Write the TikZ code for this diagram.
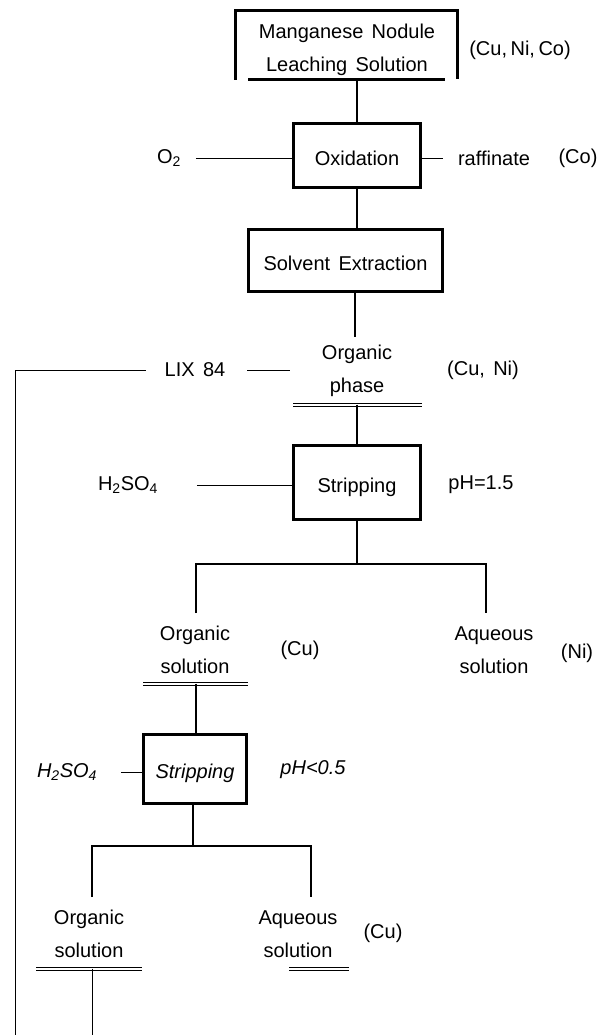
\documentclass[tikz,border=0pt]{standalone}
\usepackage{fontspec}
\setmainfont{Liberation Sans}[WordSpace=1.5]
\begin{document}
\begin{tikzpicture}[x=1pt,y=-1pt,
  every node/.style={inner sep=0pt, outer sep=0pt, font=\fontsize{20}{33}\selectfont, align=center},
  itfont/.style={font=\fontsize{20}{33}\selectfont\itshape},
  procbox/.style={draw, line width=2.7pt, text height=19.4pt, text depth=0pt},
  heavy/.style={line width=2.7pt, line join=miter},
  light/.style={line width=0.9pt},
  bar/.style={line width=0.9pt}]
\useasboundingbox (0,0) rectangle (613,1035);

% top box
\node (mn) at (346.5,45) [minimum width=222.4pt, minimum height=69.4pt] {};
\node (mnt) at (347,50) {Manganese Nodule\\Leaching Solution};
\draw[heavy] (mn.south west) -- (mn.north west) -- (mn.north east) -- ([yshift=1pt]mn.south east);
\draw[heavy] ([xshift=13pt]mn.south west) -- ([xshift=-13pt]mn.south east);
\node (cnc) at (520,50) {(Cu,\hspace{3.5pt}Ni,\hspace{3.5pt}Co)};

% oxidation
\node[procbox, minimum width=127.3pt, minimum height=64.3pt] (ox) at (357,155.5) {Oxidation};
\draw[heavy] (mn.south -| ox.north) -- (ox.north);
\node (o2) at (169,158) {O\textsubscript{2}};
\draw[light] ([xshift=15pt]o2.east) -- (o2.east -| ox.west);
\node (raf) at (494,158) {raffinate};
\draw[light] (raf.west -| ox.east) -- ([xshift=-15pt]raf.west);
\node (co) at (578,158) {(Co)};

% solvent extraction
\node[procbox, minimum width=194.3pt, minimum height=62.3pt] (se) at (345.5,260.5) {Solvent Extraction};
\draw[heavy] (ox.south) -- (ox.south |- se.north);

% organic phase
\node (op) at (357,371) {Organic\\phase};
\coordinate (opt) at (355,337);
\coordinate (opbar) at (357,404.5);
\draw[heavy] (se.south -| opt) -- (opt);
\draw[bar] ([xshift=-64pt,yshift=1.5pt]opbar) -- ([xshift=65pt,yshift=1.5pt]opbar);
\draw[bar] ([xshift=-64pt,yshift=-1.5pt]opbar) -- ([xshift=65pt,yshift=-1.5pt]opbar);
\node (lix) at (195,370) {LIX 84};
\draw[light] ([xshift=22pt]lix.east) -- ([xshift=65pt]lix.east);
\coordinate (loopend) at (15,1035);
\draw[light] ([xshift=-19pt]lix.west) -- (lix.west -| loopend) -- (loopend);
\node (cuni) at (483,370) {(Cu, Ni)};

% stripping 1
\node[procbox, minimum width=127.3pt, minimum height=74.3pt] (st1) at (357,482.5) {Stripping};
\draw[heavy] (opbar) -- (st1.north);
\node (h1) at (128,485) {H\textsubscript{2}SO\textsubscript{4}};
\draw[light] ([xshift=39pt]h1.east) -- (h1.east -| st1.west);
\node (ph1) at (481,485) {pH=1.5};

% branch 1
\coordinate (b1) at (357,564);
\coordinate (b1l) at (196,613);
\coordinate (b1r) at (486,613);
\draw[heavy] (st1.south) -- (b1);
\draw[heavy] (b1l) -- (b1l |- b1) -- (b1r |- b1) -- (b1r);
\node (os1) at (195,650) {Organic\\solution};
\coordinate (os1bar) at (196,683.5);
\draw[bar] ([xshift=-53pt,yshift=1.5pt]os1bar) -- ([xshift=52pt,yshift=1.5pt]os1bar);
\draw[bar] ([xshift=-53pt,yshift=-1.5pt]os1bar) -- ([xshift=52pt,yshift=-1.5pt]os1bar);
\node (cu1) at (300,650) {(Cu)};
\node (aq1) at (494,650) {Aqueous\\solution};
\node (ni) at (577,653) {(Ni)};

% stripping 2
\node[procbox, itfont, minimum width=103.3pt, minimum height=69.3pt] (st2) at (195,769) {Stripping};
\draw[heavy] (os1bar) -- (os1bar |- st2.north);
\node[itfont] (h2) at (67,772) {H\textsubscript{2}SO\textsubscript{4}};
\draw[light] ([xshift=24pt]h2.east) -- (h2.east -| st2.west);
\node[itfont] (ph2) at (313,770) {pH<0.5};

% branch 2
\coordinate (b2) at (193,846);
\coordinate (b2l) at (92,897);
\coordinate (b2r) at (311,897);
\draw[heavy] (st2.south -| b2) -- (b2);
\draw[heavy] (b2l) -- (b2l |- b2) -- (b2r |- b2) -- (b2r);
\node (os2) at (89,934) {Organic\\solution};
\coordinate (os2bar) at (92,968.5);
\draw[bar] ([xshift=-56pt,yshift=1.5pt]os2bar) -- ([xshift=50pt,yshift=1.5pt]os2bar);
\draw[bar] ([xshift=-56pt,yshift=-1.5pt]os2bar) -- ([xshift=50pt,yshift=-1.5pt]os2bar);
\coordinate (os2end) at (92,1035);
\draw[light] (os2bar) -- (os2end);
\node (aq2) at (298,934) {Aqueous\\solution};
\coordinate (aq2bar) at (319,968.5);
\draw[bar] ([xshift=-30pt,yshift=1.5pt]aq2bar) -- ([xshift=30pt,yshift=1.5pt]aq2bar);
\draw[bar] ([xshift=-30pt,yshift=-1.5pt]aq2bar) -- ([xshift=30pt,yshift=-1.5pt]aq2bar);
\node (cu2) at (383,933) {(Cu)};
\end{tikzpicture}
\end{document}
